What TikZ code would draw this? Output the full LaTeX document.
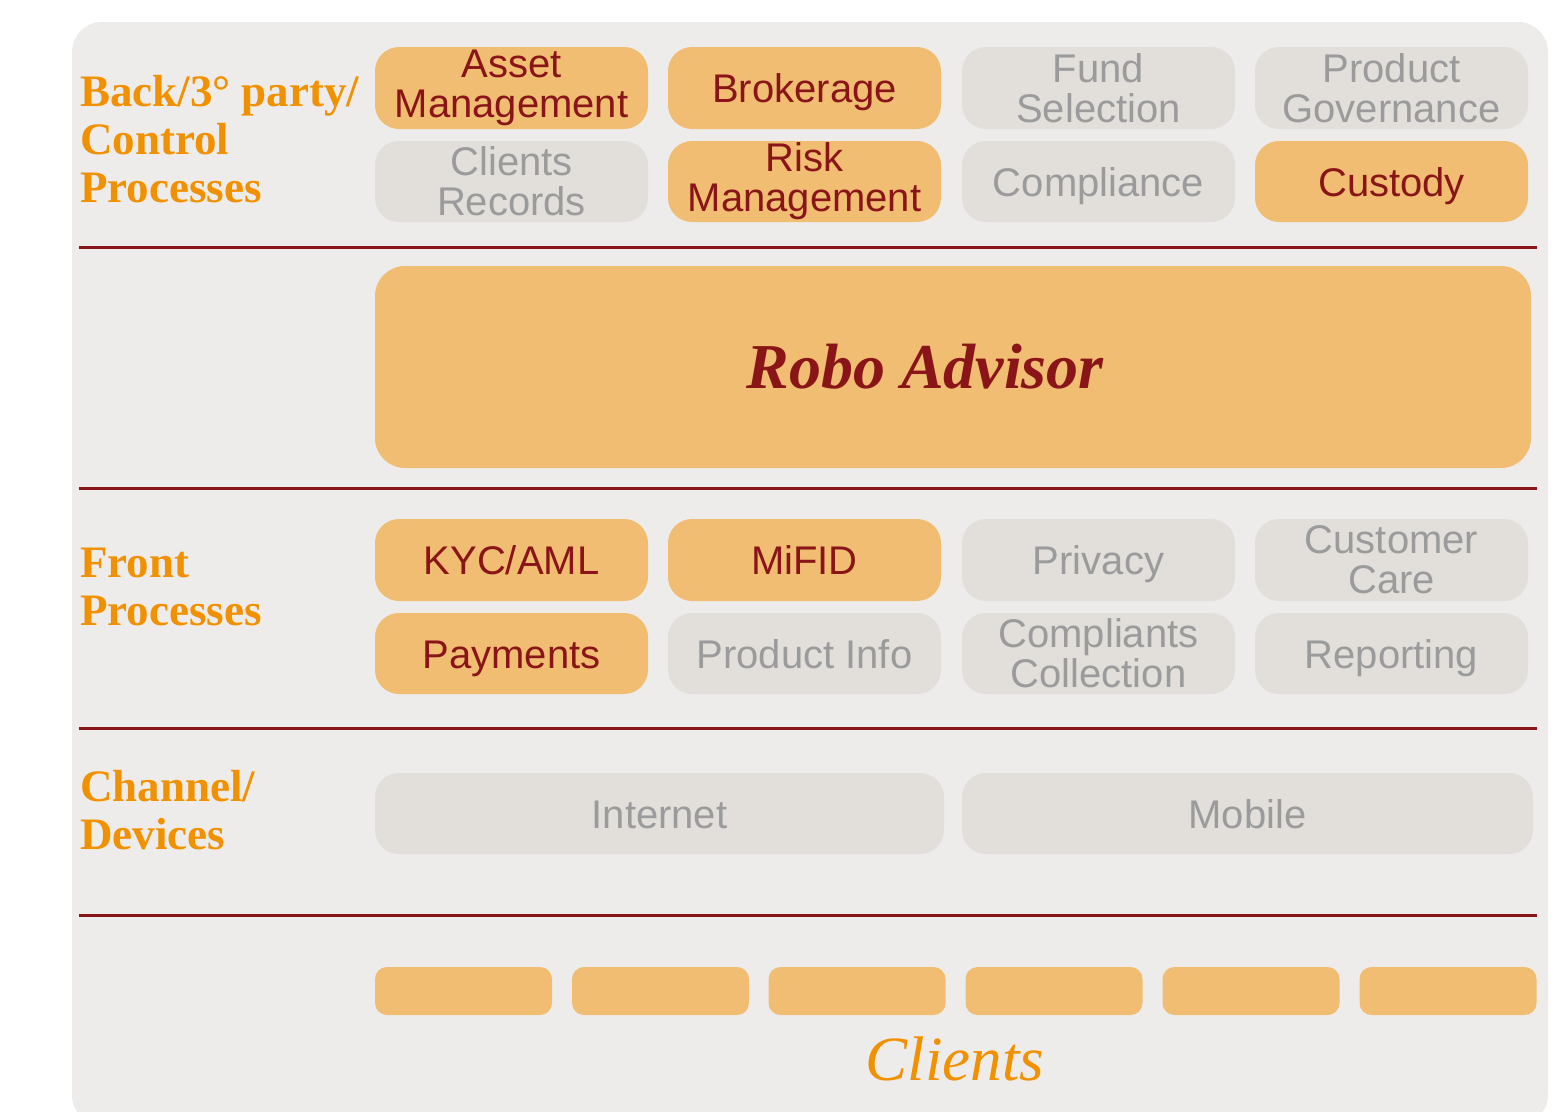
\documentclass[tikz,border=0pt]{standalone}
\usepackage{fontspec}
\setmainfont{Liberation Serif}
\setsansfont{Liberation Sans}
\definecolor{panel}{HTML}{EDECEA}
\definecolor{obox}{HTML}{F0BD73}
\definecolor{gbox}{HTML}{E2DFDB}
\definecolor{dred}{HTML}{8A1518}
\definecolor{gtext}{HTML}{9B9B9B}
\definecolor{otext}{HTML}{F29100}
\tikzset{
  cell/.style={rounded corners=24pt, inner sep=0pt, align=center,
    font=\sffamily\fontsize{40}{40}\selectfont},
  onbox/.style={cell, fill=obox, text=dred},
  gybox/.style={cell, fill=gbox, text=gtext},
  one/.style={text height=29pt, text depth=0pt},
  sect/.style={anchor=base west, align=left, text=otext, inner sep=0pt,
    font=\rmfamily\bfseries\fontsize{45}{48}\selectfont},
  sep/.style={draw=dred, line width=3pt},
  clbox/.style={fill=obox, rounded corners=12pt, minimum width=177pt, minimum height=48pt, inner sep=0pt}
}
\begin{document}
\begin{tikzpicture}[x=1pt,y=-1pt]
\useasboundingbox (0,0) rectangle (1563,1111);
\clip (0,0) rectangle (1563,1111);
\fill[panel, rounded corners=30pt] (72,22) rectangle (1548,1125);
% separators
\coordinate (s1a) at (79,247); \coordinate (s1b) at (1537,247);
\coordinate (s2a) at (79,488); \coordinate (s2b) at (1537,488);
\coordinate (s3a) at (79,728); \coordinate (s3b) at (1537,728);
\coordinate (s4a) at (79,915); \coordinate (s4b) at (1537,915);
\draw[sep] (s1a) -- (s1b);
\draw[sep] (s2a) -- (s2b);
\draw[sep] (s3a) -- (s3b);
\draw[sep] (s4a) -- (s4b);
% section labels (anchored at last baseline)
\node[sect] (lb1) at (80,202) {Back/3° party/\\Control\\Processes};
\node[sect] (lb2) at (80,625) {Front\\Processes};
\node[sect] (lb3) at (80,849) {Channel/\\Devices};
% back row
\node[onbox, minimum width=273pt, minimum height=82pt] (am) at (511.5,88) {Asset\\Management};
\node[onbox, one, minimum width=273pt, minimum height=82pt] (br) at (804.5,88) {Brokerage};
\node[gybox, minimum width=273pt, minimum height=82pt] (fs) at (1098.5,88) {Fund\\Selection};
\node[gybox, minimum width=273pt, minimum height=82pt] (pg) at (1391.5,88) {Product\\Governance};
\node[gybox, minimum width=273pt, minimum height=81pt] (cr) at (511.5,181.5) {Clients\\Records};
\node[onbox, minimum width=273pt, minimum height=81pt] (rm) at (804.5,181.5) {Risk\\Management};
\node[gybox, one, minimum width=273pt, minimum height=81pt] (co) at (1098.5,181.5) {Compliance};
\node[onbox, one, minimum width=273pt, minimum height=81pt] (cu) at (1391.5,181.5) {Custody};
% robo
\node[fill=obox, rounded corners=30pt, minimum width=1156pt, minimum height=202pt, inner sep=0pt] (robo) at (953,367) {};
\node[anchor=base, inner sep=0pt, text=dred, font=\rmfamily\bfseries\itshape\fontsize{64}{64}\selectfont] (robot) at (925,388) {Robo Advisor};
% front
\node[onbox, one, minimum width=273pt, minimum height=82pt] (kyc) at (511.5,560) {KYC/AML};
\node[onbox, one, minimum width=273pt, minimum height=82pt] (mif) at (804.5,560) {MiFID};
\node[gybox, one, minimum width=273pt, minimum height=82pt] (pri) at (1098.5,560) {Privacy};
\node[gybox, minimum width=273pt, minimum height=82pt] (cc) at (1391.5,560) {Customer\\Care};
\node[onbox, one, minimum width=273pt, minimum height=81pt] (pay) at (511.5,653.5) {Payments};
\node[gybox, one, minimum width=273pt, minimum height=81pt] (pin) at (804.5,653.5) {Product Info};
\node[gybox, minimum width=273pt, minimum height=81pt] (cmp) at (1098.5,653.5) {Compliants\\Collection};
\node[gybox, one, minimum width=273pt, minimum height=81pt] (rep) at (1391.5,653.5) {Reporting};
% channels
\node[gybox, one, minimum width=569pt, minimum height=81pt] (int) at (659.5,813.5) {Internet};
\node[gybox, one, minimum width=571pt, minimum height=81pt] (mob) at (1247.5,813.5) {Mobile};
% clients
\node[clbox] (c1) at (463.5,991) {};
\node[clbox] (c2) at (660.5,991) {};
\node[clbox] (c3) at (857,991) {};
\node[clbox] (c4) at (1054,991) {};
\node[clbox] (c5) at (1251,991) {};
\node[clbox] (c6) at (1448,991) {};
\node[anchor=base, inner sep=0pt, text=otext, font=\rmfamily\itshape\fontsize{63}{63}\selectfont] (cl) at (955,1080) {Clients};
\end{tikzpicture}
\end{document}
